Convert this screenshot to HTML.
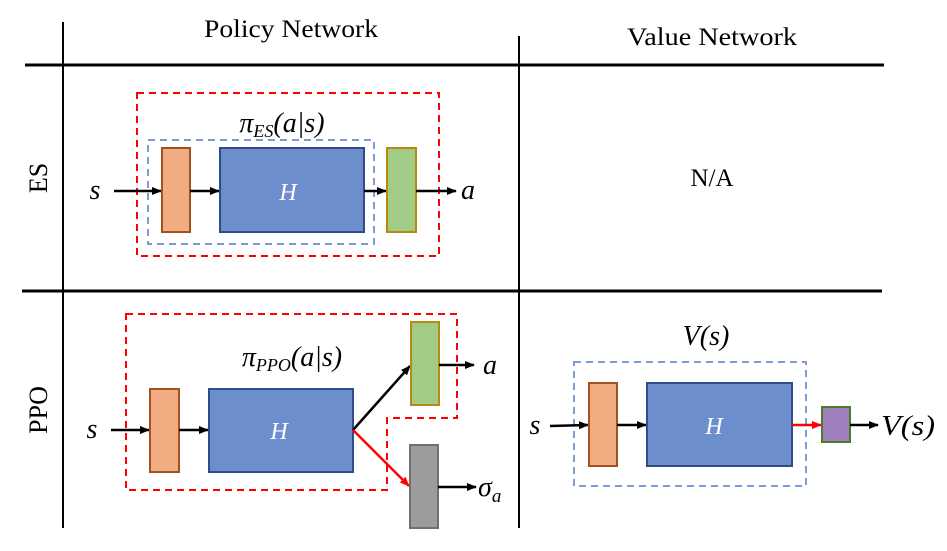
<!DOCTYPE html>
<html><head><meta charset="utf-8"><style>
html,body{margin:0;padding:0;background:#fff}
svg{display:block}
.t{font-family:"Liberation Serif",serif}
.m{font-family:"Liberation Serif",serif;font-style:italic}
</style></head><body>
<svg width="947" height="551" viewBox="0 0 947 551" xmlns="http://www.w3.org/2000/svg">
<defs>
<marker id="ab" markerWidth="10" markerHeight="8" refX="9" refY="4" orient="auto" markerUnits="userSpaceOnUse"><path d="M0,0 L10,4 L0,8 z" fill="#000"/></marker>
<marker id="ar" markerWidth="10" markerHeight="8" refX="9" refY="4" orient="auto" markerUnits="userSpaceOnUse"><path d="M0,0 L10,4 L0,8 z" fill="#f00"/></marker>
</defs>
<line x1="63" y1="22" x2="63" y2="528" stroke="#000" stroke-width="2"/>
<line x1="519" y1="36" x2="519" y2="528" stroke="#000" stroke-width="2"/>
<line x1="25" y1="65" x2="884" y2="65" stroke="#000" stroke-width="3"/>
<line x1="22" y1="291" x2="882" y2="291" stroke="#000" stroke-width="3"/>
<text class="t" x="291" y="37" font-size="25" text-anchor="middle" textLength="174" lengthAdjust="spacingAndGlyphs">Policy Network</text>
<text class="t" x="712" y="45" font-size="25" text-anchor="middle" textLength="170" lengthAdjust="spacingAndGlyphs">Value Network</text>
<text class="t" x="712" y="186" font-size="25" text-anchor="middle">N/A</text>
<text class="t" font-size="26" text-anchor="middle" transform="translate(47,178) rotate(-90)">ES</text>
<text class="t" font-size="26" text-anchor="middle" transform="translate(47,410) rotate(-90)">PPO</text>

<rect x="137" y="93" width="302" height="163" fill="none" stroke="#f00" stroke-width="2" stroke-dasharray="7,5"/>
<rect x="148" y="140" width="226" height="104" fill="none" stroke="#7f9bd4" stroke-width="2" stroke-dasharray="7,5"/>
<text class="m" x="282" y="132" font-size="28" text-anchor="middle">π<tspan font-size="18" dy="5">ES</tspan><tspan dy="-5">(a|s)</tspan></text>
<text class="m" x="95" y="199" font-size="28" text-anchor="middle">s</text>
<line x1="114" y1="191" x2="161" y2="191" stroke="#000" stroke-width="2.5" marker-end="url(#ab)"/>
<rect x="162" y="148" width="28" height="84" fill="#f2ac82" stroke="#a0521f" stroke-width="2"/>
<line x1="190" y1="191" x2="219" y2="191" stroke="#000" stroke-width="2.5" marker-end="url(#ab)"/>
<rect x="220" y="148" width="144" height="84" fill="#6d8ecc" stroke="#2e4d8a" stroke-width="2"/>
<text class="m" x="288" y="200" font-size="24" fill="#fff" text-anchor="middle">H</text>
<line x1="364" y1="191" x2="386" y2="191" stroke="#000" stroke-width="2.5" marker-end="url(#ab)"/>
<rect x="387" y="148" width="29" height="84" fill="#a2cb85" stroke="#b88a10" stroke-width="2"/>
<line x1="416" y1="191" x2="456" y2="191" stroke="#000" stroke-width="2.5" marker-end="url(#ab)"/>
<text class="m" x="468" y="199" font-size="28" text-anchor="middle">a</text>

<path d="M126,314 H457 V418 H387 V490 H126 Z" fill="none" stroke="#f00" stroke-width="2" stroke-dasharray="7,5"/>
<text class="m" x="292" y="366" font-size="28" text-anchor="middle">π<tspan font-size="18" dy="5">PPO</tspan><tspan dy="-5">(a|s)</tspan></text>
<text class="m" x="92" y="438" font-size="28" text-anchor="middle">s</text>
<line x1="111" y1="430" x2="149" y2="430" stroke="#000" stroke-width="2.5" marker-end="url(#ab)"/>
<rect x="150" y="389" width="29" height="83" fill="#f2ac82" stroke="#a0521f" stroke-width="2"/>
<line x1="179" y1="430" x2="208" y2="430" stroke="#000" stroke-width="2.5" marker-end="url(#ab)"/>
<rect x="209" y="389" width="144" height="83" fill="#6d8ecc" stroke="#2e4d8a" stroke-width="2"/>
<text class="m" x="279" y="439" font-size="24" fill="#fff" text-anchor="middle">H</text>
<line x1="353" y1="430" x2="410" y2="366" stroke="#000" stroke-width="2.5" marker-end="url(#ab)"/>
<line x1="353" y1="430" x2="409" y2="486" stroke="#f00" stroke-width="2.5" marker-end="url(#ar)"/>
<rect x="411" y="322" width="28" height="83" fill="#a2cb85" stroke="#b88a10" stroke-width="2"/>
<rect x="410" y="445" width="28" height="83" fill="#9c9c9c" stroke="#707070" stroke-width="2"/>
<line x1="439" y1="365" x2="474" y2="365" stroke="#000" stroke-width="2.5" marker-end="url(#ab)"/>
<text class="m" x="490" y="374" font-size="28" text-anchor="middle">a</text>
<line x1="438" y1="487" x2="476" y2="487" stroke="#000" stroke-width="2.5" marker-end="url(#ab)"/>
<text class="m" x="478" y="496" font-size="28">σ<tspan font-size="19" dy="6">a</tspan></text>

<rect x="574" y="362" width="232" height="124" fill="none" stroke="#7f9bd4" stroke-width="2" stroke-dasharray="7,5"/>
<text class="m" x="706" y="345" font-size="28" text-anchor="middle">V(s)</text>
<text class="m" x="535" y="434" font-size="28" text-anchor="middle">s</text>
<line x1="550" y1="426" x2="588" y2="425" stroke="#000" stroke-width="2.5" marker-end="url(#ab)"/>
<rect x="589" y="383" width="28" height="83" fill="#f2ac82" stroke="#a0521f" stroke-width="2"/>
<line x1="617" y1="425" x2="646" y2="425" stroke="#000" stroke-width="2.5" marker-end="url(#ab)"/>
<rect x="647" y="383" width="145" height="83" fill="#6d8ecc" stroke="#2e4d8a" stroke-width="2"/>
<text class="m" x="714" y="434" font-size="24" fill="#fff" text-anchor="middle">H</text>
<line x1="792" y1="425" x2="821" y2="425" stroke="#f00" stroke-width="2.5" marker-end="url(#ar)"/>
<rect x="822" y="407" width="28" height="35" fill="#a07fbd" stroke="#4a7a2a" stroke-width="2"/>
<line x1="850" y1="425" x2="878" y2="425" stroke="#000" stroke-width="2.5" marker-end="url(#ab)"/>
<text class="m" x="881" y="435" font-size="28" textLength="54" lengthAdjust="spacingAndGlyphs">V(s)</text>
</svg>
</body></html>
